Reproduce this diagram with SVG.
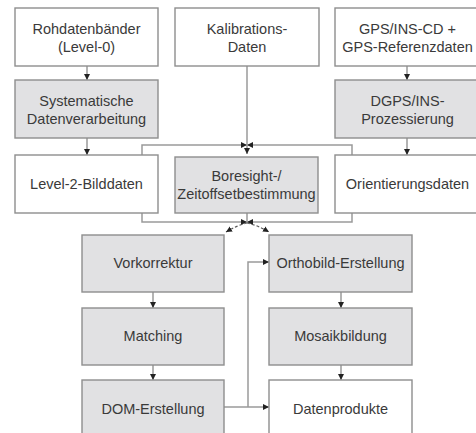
<svg xmlns="http://www.w3.org/2000/svg" width="476" height="433" viewBox="0 0 476 433">
<style>
.box{fill:#ffffff;stroke:#8e8e8e;stroke-width:1.4}
.gray{fill:#e1e1e3}
text{font-family:"Liberation Sans",Arial,sans-serif;font-size:14.5px;fill:#3a3a3a;text-anchor:middle}
.ln{fill:none;stroke:#9a9a9a;stroke-width:1.5}
.dash{fill:none;stroke:#555;stroke-width:1.1;stroke-dasharray:3 2}
</style>
<defs>
<marker id="ah" viewBox="0 0 6 6" refX="6" refY="3" markerWidth="6" markerHeight="6" markerUnits="userSpaceOnUse" orient="auto">
<path d="M0,0 L6,3 L0,6 z" fill="#222"/>
</marker>
</defs>
<rect width="476" height="433" fill="#ffffff"/>
<g id="connectors">
<line class="ln" x1="87" y1="66" x2="87" y2="80" marker-end="url(#ah)"/>
<line class="ln" x1="87" y1="138" x2="87" y2="155" marker-end="url(#ah)"/>
<line class="ln" x1="407" y1="66" x2="407" y2="80" marker-end="url(#ah)"/>
<line class="ln" x1="407" y1="138" x2="407" y2="155" marker-end="url(#ah)"/>
<polyline class="ln" points="142,155 142,145 247,145" marker-end="url(#ah)"/>
<polyline class="ln" points="352,155 352,145 247,145" marker-end="url(#ah)"/>
<line class="ln" x1="247" y1="66" x2="247" y2="154" marker-end="url(#ah)"/>
<polyline class="ln" points="142,213 142,222 247,222" marker-end="url(#ah)"/>
<polyline class="ln" points="352,213 352,222 247,222" marker-end="url(#ah)"/>
<line class="ln" x1="247" y1="213" x2="247" y2="222"/>
<path class="dash" d="M247,223 Q238,225 226,232" marker-end="url(#ah)"/>
<path class="dash" d="M247,223 Q257,225 269,232" marker-end="url(#ah)"/>
<line class="ln" x1="153" y1="292" x2="153" y2="308" marker-end="url(#ah)"/>
<line class="ln" x1="153" y1="365" x2="153" y2="380" marker-end="url(#ah)"/>
<line class="ln" x1="341" y1="292" x2="341" y2="308" marker-end="url(#ah)"/>
<line class="ln" x1="341" y1="365" x2="341" y2="380" marker-end="url(#ah)"/>
<line class="ln" x1="224" y1="407" x2="269" y2="407" marker-end="url(#ah)"/>
<polyline class="ln" points="248,407 248,262 269,262" marker-end="url(#ah)"/>
</g>
<g id="rohdaten"><rect class="box" x="15" y="8" width="143" height="58"/><text x="86.5" y="33.5">Rohdatenbänder</text><text x="86.5" y="51.5">(Level-0)</text></g>
<g id="kalibration"><rect class="box" x="175" y="8" width="144" height="58"/><text x="247" y="33.5">Kalibrations-</text><text x="247" y="51.5">Daten</text></g>
<g id="gps"><rect class="box" x="335" y="8" width="145" height="58"/><text x="407.5" y="33.5">GPS/INS-CD +</text><text x="407.5" y="51.5">GPS-Referenzdaten</text></g>
<g id="systematisch"><rect class="box gray" x="15" y="80" width="143" height="58"/><text x="86.5" y="105.5">Systematische</text><text x="86.5" y="123.5">Datenverarbeitung</text></g>
<g id="dgps"><rect class="box gray" x="335" y="80" width="145" height="58"/><text x="407.5" y="105.5">DGPS/INS-</text><text x="407.5" y="123.5">Prozessierung</text></g>
<g id="level2"><rect class="box" x="15" y="155" width="143" height="58"/><text x="86.5" y="188.5">Level-2-Bilddaten</text></g>
<g id="boresight"><rect class="box gray" x="175" y="157" width="143" height="56"/><text x="246.5" y="180.5">Boresight-/</text><text x="246.5" y="198.5">Zeitoffsetbestimmung</text></g>
<g id="orientierung"><rect class="box" x="335" y="155" width="145" height="58"/><text x="407.5" y="188.5">Orientierungsdaten</text></g>
<g id="vorkorrektur"><rect class="box gray" x="82" y="235" width="142" height="57"/><text x="153" y="268">Vorkorrektur</text></g>
<g id="matching"><rect class="box gray" x="82" y="308" width="142" height="57"/><text x="153" y="341">Matching</text></g>
<g id="dom"><rect class="box gray" x="82" y="380" width="142" height="57"/><text x="153" y="413.5">DOM-Erstellung</text></g>
<g id="orthobild"><rect class="box gray" x="269" y="235" width="143" height="57"/><text x="340.5" y="268">Orthobild-Erstellung</text></g>
<g id="mosaik"><rect class="box gray" x="269" y="308" width="143" height="57"/><text x="340.5" y="341">Mosaikbildung</text></g>
<g id="datenprodukte"><rect class="box" x="269" y="380" width="143" height="57"/><text x="340.5" y="413.5">Datenprodukte</text></g>
</svg>
